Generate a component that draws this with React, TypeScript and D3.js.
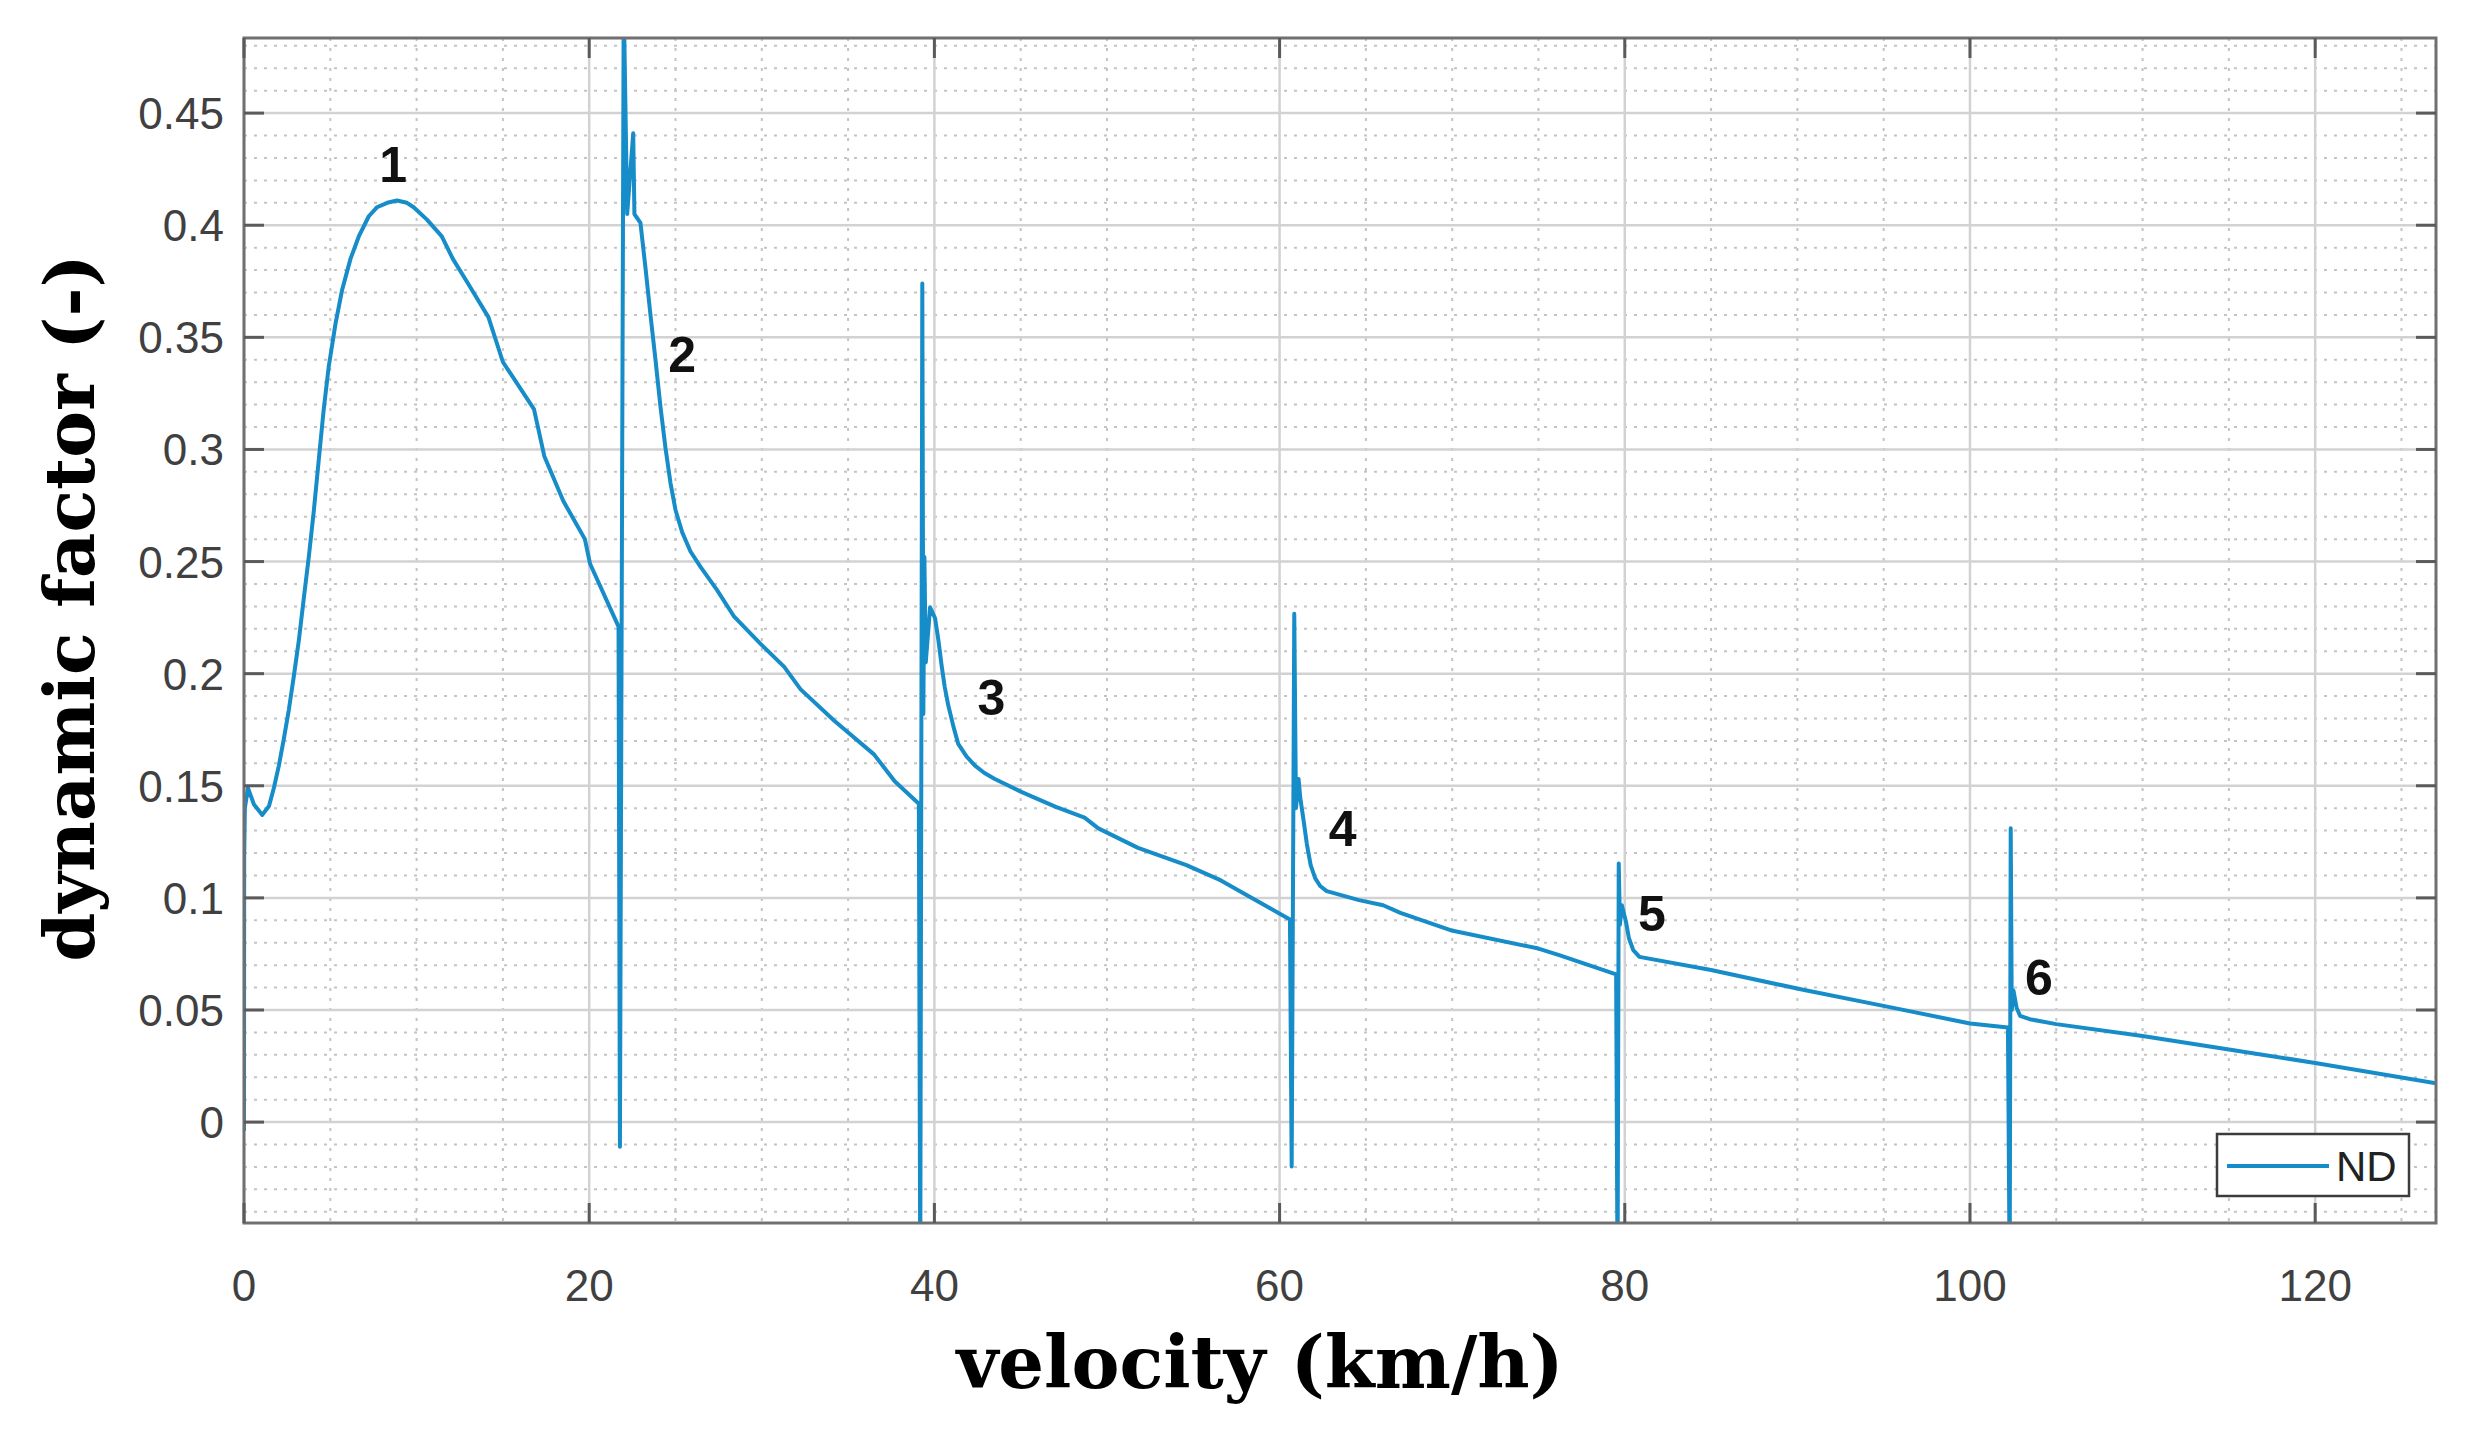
import React from "react";
import * as d3 from "d3";

// ---- data ----
const velocity = [
  0, 0.01, 0.05, 0.23, 0.58, 1.06, 1.45, 1.73, 2.02, 2.31, 2.6, 2.89, 3.18, 3.47, 3.76, 4.05,
  4.34, 4.62, 4.91, 5.3, 5.68, 6.17, 6.65, 7.23, 7.7, 8.3, 8.86, 9.44, 9.83, 10.6, 11.46,
  12.1, 12.9, 14.16, 15.0, 16.8, 17.4, 18.5, 19.75, 20.05, 21.7, 21.78, 22.0, 22.2, 22.55,
  22.62, 22.97, 23.26, 23.55, 23.84, 24.13, 24.42, 24.71, 25.0, 25.39, 25.87, 26.45, 27.4,
  28.4, 29.9, 31.3, 32.25, 34.2, 36.5, 37.7, 39.1, 39.18, 39.3, 39.36, 39.42, 39.5, 39.75,
  40.04, 40.23, 40.42, 40.6, 40.8, 41.1, 41.38, 41.87, 42.35, 42.9, 43.5, 45.0, 47.0, 48.7,
  49.5, 51.8, 54.6, 56.6, 57.7, 59.5, 60.6, 60.7, 60.85, 60.95, 61.1, 61.2, 61.4, 61.58,
  61.8, 62.06, 62.35, 62.73, 64.6, 66.0, 67.0, 69.9, 75.0, 76.2, 79.5, 79.58, 79.65, 79.72,
  79.83, 80.07, 80.24, 80.49, 80.85, 85.0, 90.4, 95.2, 100.0, 102.2, 102.3, 102.36, 102.42,
  102.52, 102.7, 102.9, 103.46, 105, 110, 115, 120, 127,
];
const dynamicFactor = [
  -0.004, 0.118, 0.14, 0.149, 0.1416, 0.137, 0.141, 0.149, 0.159, 0.171, 0.184, 0.199, 0.215,
  0.234, 0.2525, 0.273, 0.296, 0.318, 0.337, 0.356, 0.371, 0.385, 0.395, 0.404, 0.408, 0.41,
  0.411, 0.41, 0.408, 0.4025, 0.395, 0.385, 0.375, 0.359, 0.339, 0.318, 0.297, 0.277, 0.26,
  0.249, 0.221, -0.011, 0.5, 0.405, 0.441, 0.405, 0.401, 0.381, 0.36, 0.34, 0.319, 0.3006,
  0.285, 0.273, 0.263, 0.2545, 0.2476, 0.2374, 0.2254, 0.2135, 0.203, 0.193, 0.179, 0.164,
  0.152, 0.142, -0.07, 0.374, 0.182, 0.252, 0.205, 0.2296, 0.2247, 0.215, 0.2035, 0.194,
  0.186, 0.1765, 0.1687, 0.163, 0.159, 0.1557, 0.153, 0.1474, 0.1407, 0.1358, 0.131, 0.1223,
  0.1146, 0.1078, 0.103, 0.0952, 0.0904, -0.0198, 0.2267, 0.14, 0.153, 0.1445, 0.134, 0.124,
  0.1146, 0.1088, 0.1053, 0.103, 0.099, 0.0967, 0.0933, 0.0856, 0.0774, 0.0745, 0.0659,
  -0.07, 0.1153, 0.088, 0.0967, 0.0893, 0.082, 0.0767, 0.0737, 0.0678, 0.0589, 0.0515, 0.044,
  0.0422, -0.07, 0.131, 0.05, 0.0587, 0.051, 0.0474, 0.0459, 0.0437, 0.0384, 0.0324, 0.0264,
  0.0173,
];

const xTicks = [0, 20, 40, 60, 80, 100, 120];
const xTickLabels = ["0", "20", "40", "60", "80", "100", "120"];
const yTicks = [0, 0.05, 0.1, 0.15, 0.2, 0.25, 0.3, 0.35, 0.4, 0.45];
const yTickLabels = ["0", "0.05", "0.1", "0.15", "0.2", "0.25", "0.3", "0.35", "0.4", "0.45"];

const gearLabels = ["1", "2", "3", "4", "5", "6"];
const gearLabelV = [8.64, 25.39, 43.3, 63.65, 81.57, 104.0];
const gearLabelF = [0.4273, 0.3427, 0.1895, 0.1312, 0.0933, 0.0649];

const seriesName = "ND";
const xLabel = "velocity (km/h)";
const yLabel = "dynamic factor (-)";

const W = 2468;
const H = 1440;
const M = { left: 244, right: 2436, top: 38, bottom: 1223 };
const X_DOMAIN: [number, number] = [0, 127];
const Y_DOMAIN: [number, number] = [-0.045, 0.4835];

const LINE = "#168cc8";
const AXIS = "#707070";
const GRID = "#d2d2d2";
const MINOR = "#c4c4c4";
const TICKTXT = "#404040";

export default function App() {
  const x = d3.scaleLinear().domain(X_DOMAIN).range([M.left, M.right]);
  const y = d3.scaleLinear().domain(Y_DOMAIN).range([M.bottom, M.top]);

  const pts = velocity.map((v, i) => [v, dynamicFactor[i]] as [number, number]);
  const line = d3
    .line<[number, number]>()
    .x((d) => x(d[0]))
    .y((d) => y(d[1]));

  const xMinor = d3.range(5, 127, 5).filter((v) => v % 20 !== 0);
  const yMinor = d3
    .range(-0.04, 0.481, 0.01)
    .map((v) => Math.round(v * 100) / 100)
    .filter((v) => Math.abs(v / 0.05 - Math.round(v / 0.05)) > 1e-6);

  const tickLen = 20;
  const tickFont = 44;

  return (
    <svg
      width={W}
      height={H}
      viewBox={`0 0 ${W} ${H}`}
      style={{ position: "absolute", left: 0, top: 0, background: "#fff" }}
    >
      <defs>
        <clipPath id="plotclip">
          <rect x={M.left} y={M.top} width={M.right - M.left} height={M.bottom - M.top} />
        </clipPath>
      </defs>
      <rect x={0} y={0} width={W} height={H} fill="#fff" />

      {/* minor grid */}
      <g stroke={MINOR} strokeWidth={2} strokeDasharray="3 7">
        {xMinor.map((v) => (
          <line key={"xm" + v} x1={x(v)} x2={x(v)} y1={M.top} y2={M.bottom} />
        ))}
        {yMinor.map((v) => (
          <line key={"ym" + v} x1={M.left} x2={M.right} y1={y(v)} y2={y(v)} />
        ))}
      </g>

      {/* major grid */}
      <g stroke={GRID} strokeWidth={2.5}>
        {xTicks.map((v) => (
          <line key={"xg" + v} x1={x(v)} x2={x(v)} y1={M.top} y2={M.bottom} />
        ))}
        {yTicks.map((v) => (
          <line key={"yg" + v} x1={M.left} x2={M.right} y1={y(v)} y2={y(v)} />
        ))}
      </g>

      {/* data line */}
      <g clipPath="url(#plotclip)">
        <path
          d={line(pts) || ""}
          fill="none"
          stroke={LINE}
          strokeWidth={4}
          strokeLinejoin="round"
        />
      </g>

      {/* axes box and ticks */}
      <rect
        x={M.left}
        y={M.top}
        width={M.right - M.left}
        height={M.bottom - M.top}
        fill="none"
        stroke={AXIS}
        strokeWidth={3}
      />
      <g stroke="#5a5a5a" strokeWidth={3}>
        {xTicks.map((v) => (
          <g key={"xt" + v}>
            <line x1={x(v)} x2={x(v)} y1={M.bottom} y2={M.bottom - tickLen} />
            <line x1={x(v)} x2={x(v)} y1={M.top} y2={M.top + tickLen} />
          </g>
        ))}
        {yTicks.map((v) => (
          <g key={"yt" + v}>
            <line x1={M.left} x2={M.left + tickLen} y1={y(v)} y2={y(v)} />
            <line x1={M.right} x2={M.right - tickLen} y1={y(v)} y2={y(v)} />
          </g>
        ))}
      </g>

      {/* tick labels */}
      <g fontFamily="'Liberation Sans', Arial, sans-serif" fontSize={tickFont} fill={TICKTXT}>
        {xTicks.map((v, i) => (
          <text key={"xl" + v} x={x(v)} y={M.bottom + 78} textAnchor="middle">
            {xTickLabels[i]}
          </text>
        ))}
        {yTicks.map((v, i) => (
          <text key={"yl" + v} x={M.left - 20} y={y(v) + 16} textAnchor="end">
            {yTickLabels[i]}
          </text>
        ))}
      </g>

      {/* gear annotations */}
      <g
        fontFamily="'Liberation Sans', Arial, sans-serif"
        fontWeight="bold"
        fontSize={50}
        fill="#111"
        textAnchor="middle"
      >
        {gearLabels.map((t, i) => (
          <text key={"g" + t} x={x(gearLabelV[i])} y={y(gearLabelF[i]) + 18}>
            {t}
          </text>
        ))}
      </g>

      {/* legend */}
      <g>
        <rect x={2217} y={1134} width={192} height={62} fill="#fff" stroke="#3c3c3c" strokeWidth={2.5} />
        <line x1={2227} x2={2329} y1={1166} y2={1166} stroke={LINE} strokeWidth={4} />
        <text
          x={2336}
          y={1181}
          fontFamily="'Liberation Sans', Arial, sans-serif"
          fontSize={42}
          fill="#222"
        >
          {seriesName}
        </text>
      </g>

      {/* axis titles */}
      <text
        x={(M.left + M.right) / 2 - 80}
        y={1388}
        textAnchor="middle"
        fontFamily="'DejaVu Serif', serif"
        fontWeight="bold"
        fontSize={72}
        fill="#000"
      >
        {xLabel}
      </text>
      <text
        transform={`translate(94, 608) rotate(-90)`}
        textAnchor="middle"
        fontFamily="'DejaVu Serif', serif"
        fontWeight="bold"
        fontSize={70}
        fill="#000"
      >
        {yLabel}
      </text>
    </svg>
  );
}
